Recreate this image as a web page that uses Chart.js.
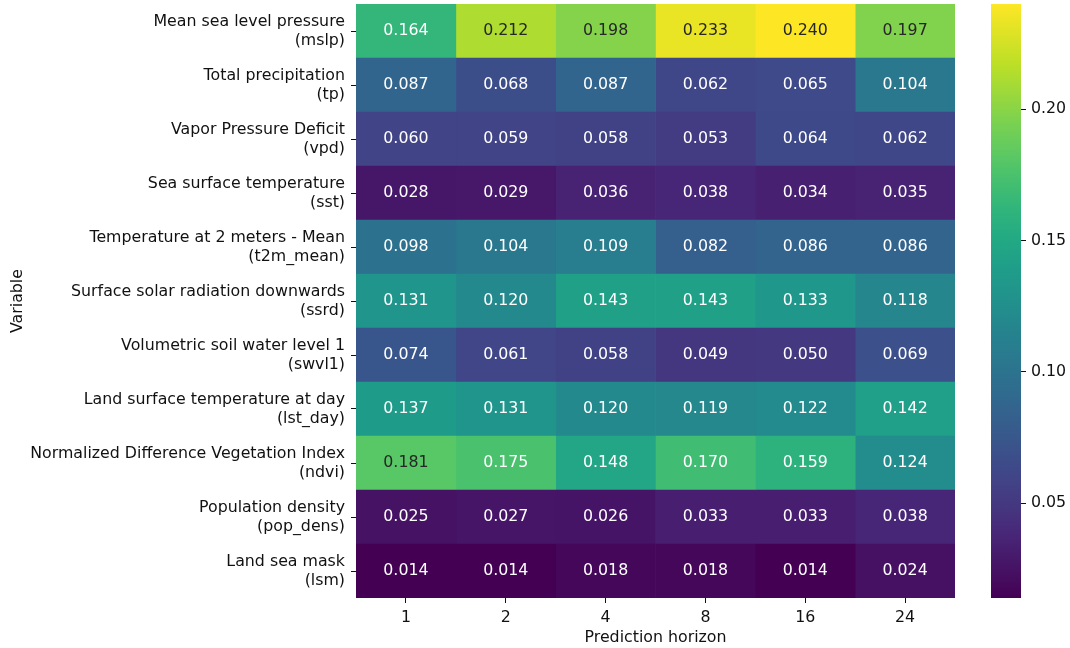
<!DOCTYPE html>
<html>
<head>
<meta charset="utf-8">
<script src="https://cdn.jsdelivr.net/npm/chart.js@4/dist/chart.umd.min.js"></script>
<style>
  html, body { margin: 0; padding: 0; background: #ffffff; }
  #wrap { position: relative; width: 1070px; height: 648px; }
  #main { position: absolute; left: 0; top: 0; }
  #cbar { position: absolute; left: 940px; top: 0; }
</style>
</head>
<body>
<div id="wrap">
  <canvas id="main" width="1070" height="648"></canvas>
  <canvas id="cbar" width="130" height="648"></canvas>
</div>
<script>
// Variables (rows, top to bottom)
const variables = [
  ["Mean sea level pressure", "(mslp)"],
  ["Total precipitation", "(tp)"],
  ["Vapor Pressure Deficit", "(vpd)"],
  ["Sea surface temperature", "(sst)"],
  ["Temperature at 2 meters - Mean", "(t2m_mean)"],
  ["Surface solar radiation downwards", "(ssrd)"],
  ["Volumetric soil water level 1", "(swvl1)"],
  ["Land surface temperature at day", "(lst_day)"],
  ["Normalized Difference Vegetation Index", "(ndvi)"],
  ["Population density", "(pop_dens)"],
  ["Land sea mask", "(lsm)"]
];

// Prediction horizons (columns)
const horizons = ["1", "2", "4", "8", "16", "24"];

// Importance per horizon, one value per variable (same order as rows)
const h1  = [0.164, 0.087, 0.060, 0.028, 0.098, 0.131, 0.074, 0.137, 0.181, 0.025, 0.014];
const h2  = [0.212, 0.068, 0.059, 0.029, 0.104, 0.120, 0.061, 0.131, 0.175, 0.027, 0.014];
const h4  = [0.198, 0.087, 0.058, 0.036, 0.109, 0.143, 0.058, 0.120, 0.148, 0.026, 0.018];
const h8  = [0.233, 0.062, 0.053, 0.038, 0.082, 0.143, 0.049, 0.119, 0.170, 0.033, 0.018];
const h16 = [0.240, 0.065, 0.064, 0.034, 0.086, 0.133, 0.050, 0.122, 0.159, 0.033, 0.014];
const h24 = [0.197, 0.104, 0.062, 0.035, 0.086, 0.118, 0.069, 0.142, 0.124, 0.038, 0.024];

// Colour bar tick labels
const cbarTicks = [0.05, 0.10, 0.15, 0.20];

const columns = [h1, h2, h4, h8, h16, h24];
const allVals = columns.flat();
const vmin = Math.min(...allVals);
const vmax = Math.max(...allVals);

// Viridis colormap as piecewise-linear stops
const VIRIDIS = [
  [0.000, "#440154"], [0.100, "#482475"], [0.111, "#482878"], [0.125, "#472d7b"],
  [0.200, "#414487"], [0.222, "#3e4989"], [0.250, "#3b528b"], [0.300, "#355f8d"],
  [0.333, "#31688e"], [0.375, "#2c728e"], [0.400, "#2a788e"], [0.444, "#26828e"],
  [0.500, "#21918c"], [0.556, "#1f9e89"], [0.600, "#22a884"], [0.625, "#28ae80"],
  [0.667, "#35b779"], [0.700, "#44bf70"], [0.750, "#5ec962"], [0.778, "#6ece58"],
  [0.800, "#7ad151"], [0.875, "#addc30"], [0.889, "#b5de2b"], [0.900, "#bddf26"],
  [1.000, "#fde725"]
];
function hexRgb(h) {
  return [parseInt(h.slice(1, 3), 16), parseInt(h.slice(3, 5), 16), parseInt(h.slice(5, 7), 16)];
}
function viridis(t) {
  t = Math.max(0, Math.min(1, t));
  for (let i = 1; i < VIRIDIS.length; i++) {
    if (t <= VIRIDIS[i][0]) {
      const [t0, c0] = VIRIDIS[i - 1];
      const [t1, c1] = VIRIDIS[i];
      const f = (t - t0) / (t1 - t0);
      const a = hexRgb(c0), b = hexRgb(c1);
      const r = a.map((v, k) => Math.round(v + (b[k] - v) * f));
      return `rgb(${r[0]},${r[1]},${r[2]})`;
    }
  }
  return VIRIDIS[VIRIDIS.length - 1][1];
}
const norm = v => (v - vmin) / (vmax - vmin);

const FONT = "'DejaVu Sans', 'Liberation Sans', sans-serif";
const FS = 15.8;
const TEXT = "#111111";

// Writes each cell's value at the centre of its rectangle
const cellLabels = {
  id: "cellLabels",
  afterDatasetsDraw(chart) {
    const ctx = chart.ctx;
    ctx.save();
    ctx.font = `${FS}px ${FONT}`;
    ctx.textAlign = "center";
    ctx.textBaseline = "middle";
    chart.data.datasets.forEach((ds, j) => {
      const meta = chart.getDatasetMeta(j);
      meta.data.forEach((el, i) => {
        const v = ds.values[i];
        ctx.fillStyle = norm(v) > 0.73 ? "#262626" : "#ffffff";
        ctx.fillText(v.toFixed(3), (el.x + el.base) / 2, el.y);
      });
    });
    ctx.restore();
  }
};

// Keeps the plotting area at fixed edges regardless of label overhang
const noPad = s => { s.paddingTop = 0; s.paddingBottom = 0; s.paddingLeft = 0; s.paddingRight = 0; };

new Chart(document.getElementById("main"), {
  type: "bar",
  data: {
    labels: variables,
    datasets: columns.map((vals, j) => ({
      label: horizons[j],
      values: vals,
      data: vals.map(() => [j, j + 1]),
      backgroundColor: ctx => viridis(norm(vals[ctx.dataIndex])),
      borderWidth: 0,
      barPercentage: 1,
      categoryPercentage: 1,
      grouped: false
    }))
  },
  options: {
    indexAxis: "y",
    responsive: false,
    animation: false,
    devicePixelRatio: 1,
    layout: { padding: { top: 4, right: 115, left: 0, bottom: 0 } },
    plugins: { legend: { display: false }, tooltip: { enabled: false } },
    scales: {
      x: { type: "linear", min: 0, max: horizons.length, display: false },
      xh: {
        type: "category",
        labels: horizons,
        position: "bottom",
        offset: true,
        grid: { offset: false, drawOnChartArea: false, drawTicks: true, tickLength: 5, tickColor: TEXT, tickWidth: 1 },
        border: { display: false },
        ticks: { color: TEXT, font: { family: FONT, size: FS }, padding: 5, maxRotation: 0 },
        title: { display: true, text: "Prediction horizon", color: TEXT, font: { family: FONT, size: FS }, padding: { top: 0, bottom: 0.5 } },
        afterFit: s => { s.height = 50; noPad(s); }
      },
      y: {
        type: "category",
        offset: true,
        grid: { offset: false, drawOnChartArea: false, drawTicks: true, tickLength: 5, tickColor: TEXT, tickWidth: 1 },
        border: { display: false },
        ticks: { color: TEXT, font: { family: FONT, size: FS, lineHeight: 1.21 }, padding: 6, autoSkip: false },
        title: { display: true, text: "Variable", color: TEXT, font: { family: FONT, size: FS }, padding: { top: 8.3, bottom: 0 } },
        afterFit: s => { s.width = 356; noPad(s); }
      }
    }
  },
  plugins: [cellLabels]
});

// Colour bar: one floating bar spanning the value range, filled with the colormap
new Chart(document.getElementById("cbar"), {
  type: "bar",
  data: {
    labels: [""],
    datasets: [{
      data: [[vmin, vmax]],
      borderWidth: 0,
      barPercentage: 1,
      categoryPercentage: 1,
      backgroundColor: ctx => {
        const chart = ctx.chart;
        const ys = chart.scales.y;
        if (!chart.chartArea || !ys) return "#21918c";
        const g = chart.ctx.createLinearGradient(0, ys.getPixelForValue(vmin), 0, ys.getPixelForValue(vmax));
        for (let i = 0; i <= 50; i++) g.addColorStop(i / 50, viridis(i / 50));
        return g;
      }
    }]
  },
  options: {
    responsive: false,
    animation: false,
    devicePixelRatio: 1,
    layout: { padding: { top: 4, left: 51, bottom: 50, right: 0 } },
    plugins: { legend: { display: false }, tooltip: { enabled: false } },
    scales: {
      x: { display: false, afterFit: noPad },
      y: {
        position: "right",
        min: vmin,
        max: vmax,
        afterBuildTicks: s => { s.ticks = cbarTicks.map(v => ({ value: v })); },
        grid: { drawOnChartArea: false, drawTicks: true, tickLength: 5, tickColor: TEXT, tickWidth: 1 },
        border: { display: false },
        ticks: { color: TEXT, font: { family: FONT, size: FS }, padding: 5, callback: v => Number(v).toFixed(2) },
        afterFit: s => { s.width = 49; noPad(s); }
      }
    }
  }
});
</script>
</body>
</html>
